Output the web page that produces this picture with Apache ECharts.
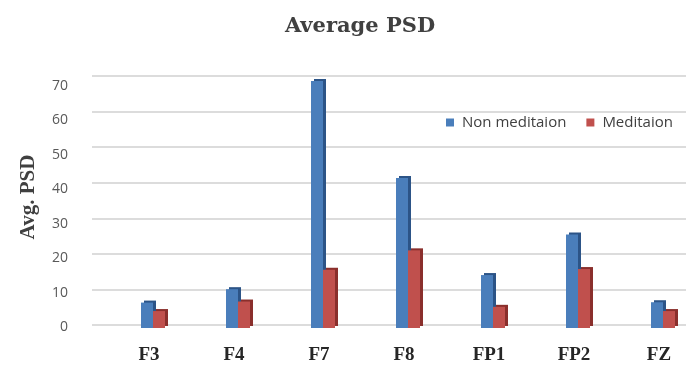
<!DOCTYPE html>
<html>
<head>
<meta charset="utf-8">
<style>html,body{margin:0;padding:0;background:#fff}#c{width:694px;height:367px}</style>
<script src="https://cdn.jsdelivr.net/npm/echarts@6/dist/echarts.min.js"></script>
</head>
<body>
<div id="c"></div>
<script>
var categories = ['F3', 'F4', 'F7', 'F8', 'FP1', 'FP2', 'FZ'];
var nonMeditation = [7.2, 11, 70, 42.5, 15, 26.5, 7.3];
var meditation = [4.8, 7.5, 16.5, 22, 6, 16.7, 4.8];
var seriesNames = ['Non meditaion', 'Meditaion'];
var yTicks = [0, 10, 20, 30, 40, 50, 60, 70];

var chart = echarts.init(document.getElementById('c'), null, {renderer: 'canvas'});
var yMin = yTicks[0], yMax = yTicks[yTicks.length - 1], yStep = yTicks[1] - yTicks[0];

chart.setOption({
  backgroundColor: '#ffffff',
  animation: false,
  title: {
    text: 'Average PSD', left: 355, top: 11, textAlign: 'center',
    textStyle: {fontFamily: 'DejaVu Serif', fontWeight: 'bold', fontSize: 21, color: '#404040'}
  },
  legend: {
    data: seriesNames, left: 441, top: 110, itemWidth: 8, itemHeight: 8, itemGap: 20,
    icon: 'rect',
    textStyle: {fontFamily: 'Open Sans', fontSize: 15, color: '#404040', padding: [0, 0, 0, 3]}
  },
  graphic: [{
    type: 'text', x: 29, y: 197, rotation: Math.PI / 2,
    style: {text: 'Avg. PSD', align: 'center', verticalAlign: 'middle',
      font: 'bold 21px "Liberation Serif"', fill: '#404040'}
  }],
  grid: [
    {left: 92, right: 8, top: 76, bottom: 42},
    {left: 88, right: 8, top: 86, bottom: 40},
    {left: 153, right: 31, top: 45.6, bottom: 39}
  ],
  xAxis: [
    {gridIndex: 0, type: 'category', data: categories, show: false},
    {gridIndex: 1, type: 'category', data: categories, show: false},
    {gridIndex: 2, type: 'category', data: categories, boundaryGap: false,
      axisLine: {show: false}, axisTick: {show: false}, splitLine: {show: false},
      axisLabel: {margin: 18, padding: [0, 8, 0, 0], fontFamily: 'Liberation Serif', fontWeight: 'bold', fontSize: 19, color: '#262626'}}
  ],
  yAxis: [
    {gridIndex: 0, type: 'value', min: yMin, max: yMax, interval: yStep,
      axisLine: {show: false}, axisTick: {show: false}, axisLabel: {show: false},
      splitLine: {lineStyle: {color: '#dcdcdc', width: 2}}},
    {gridIndex: 1, type: 'value', min: yMin, max: yMax, interval: yStep,
      axisLine: {show: false}, axisTick: {show: false}, splitLine: {show: false},
      axisLabel: {margin: 20, fontFamily: 'Open Sans', fontSize: 14, color: '#595959'}},
    {gridIndex: 2, type: 'value', min: 0, max: 80, show: false, splitLine: {show: false}}
  ],
  series: [
    {name: seriesNames[0], type: 'bar', xAxisIndex: 2, yAxisIndex: 2, data: nonMeditation,
      barWidth: 12, barGap: '0%',
      itemStyle: {color: '#4a7ebb', shadowColor: '#2c5487', shadowBlur: 0, shadowOffsetX: 3, shadowOffsetY: -2}},
    {name: seriesNames[1], type: 'bar', xAxisIndex: 2, yAxisIndex: 2, data: meditation,
      barWidth: 12, barGap: '0%',
      itemStyle: {color: '#c0504d', shadowColor: '#8a2f2c', shadowBlur: 0, shadowOffsetX: 3, shadowOffsetY: -2}}
  ]
});
</script>
</body>
</html>
